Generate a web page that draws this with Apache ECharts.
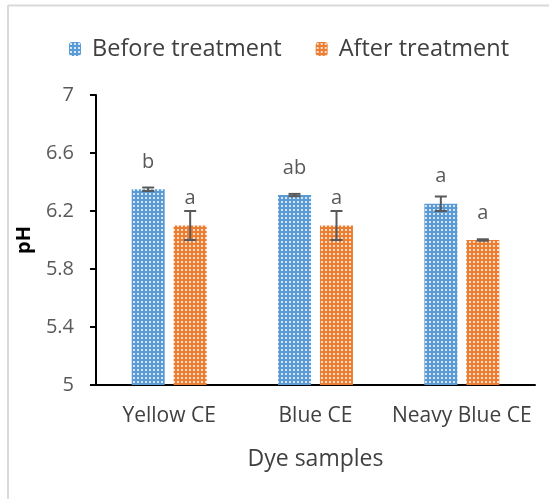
<!DOCTYPE html>
<html><head><meta charset="utf-8">
<script src="https://cdn.jsdelivr.net/npm/echarts@6/dist/echarts.min.js"></script>
<style>html,body{margin:0;padding:0;background:#fff}#c{width:549px;height:499px}</style>
</head><body><div id="c"></div>
<script>
const categories = ['Yellow CE', 'Blue CE', 'Neavy Blue CE'];
const seriesNames = ['Before treatment', 'After treatment'];
const beforeValues = [6.35, 6.31, 6.25];
const beforeErrors = [0.012, 0.008, 0.05];
const afterValues = [6.1, 6.1, 6.0];
const afterErrors = [0.1, 0.1, 0.005];
const beforeLetters = ['b', 'ab', 'a'];
const afterLetters = ['a', 'a', 'a'];
const yTicks = [5, 5.4, 5.8, 6.2, 6.6, 7];

function pattern(color) {
  const c = document.createElement('canvas');
  c.width = 4; c.height = 4;
  const g = c.getContext('2d');
  g.fillStyle = color; g.fillRect(0, 0, 4, 4);
  g.fillStyle = 'rgba(255,255,255,0.75)'; g.fillRect(1, 1, 2, 2);
  return { image: c, repeat: 'repeat' };
}
const blue = '#5B9BD5', orange = '#ED7D31';
const FONT = 'Open Sans';

function errSeries(vals, errs, offset) {
  return {
    type: 'custom',
    silent: true,
    z: 10,
    data: vals.map((v, i) => [i, v, errs[i]]),
    renderItem: function (params, api) {
      const i = api.value(0), v = api.value(1), e = api.value(2);
      const top = api.coord([i, v + e]);
      const bot = api.coord([i, v - e]);
      const x = top[0] + offset;
      const hw = 6;
      const st = { stroke: '#595959', lineWidth: 2 };
      return { type: 'group', children: [
        { type: 'line', shape: { x1: x, y1: top[1], x2: x, y2: bot[1] }, style: st },
        { type: 'line', shape: { x1: x - hw, y1: top[1], x2: x + hw, y2: top[1] }, style: st },
        { type: 'line', shape: { x1: x - hw, y1: bot[1], x2: x + hw, y2: bot[1] }, style: st }
      ]};
    }
  };
}

const chart = echarts.init(document.getElementById('c'), null, { renderer: 'canvas' });
const labelStyle = (letters) => ({
  show: true, position: 'top', distance: 17,
  formatter: p => letters[p.dataIndex],
  color: '#595959', fontSize: 20, fontFamily: FONT
});
chart.setOption({
  animation: false,
  textStyle: { fontFamily: FONT },
  graphic: [
    { type: 'line', shape: { x1: 8, y1: 5.5, x2: 549, y2: 5.5 }, style: { stroke: '#d9d9d9', lineWidth: 2 } },
    { type: 'line', shape: { x1: 8, y1: 5, x2: 8, y2: 499 }, style: { stroke: '#d9d9d9', lineWidth: 2 } }
  ],
  legend: {
    top: 32, left: 64,
    itemWidth: 12, itemHeight: 14, itemGap: 34,
    textStyle: { fontSize: 23.5, color: '#404040', fontFamily: FONT, padding: [0, 0, 0, 6] },
    data: seriesNames
  },
  grid: { left: 96, right: 14, top: 95, bottom: 114 },
  xAxis: {
    type: 'category', data: categories,
    name: 'Dye samples', nameLocation: 'middle', nameGap: 63,
    nameTextStyle: { fontSize: 23, color: '#404040', fontFamily: FONT },
    axisLine: { lineStyle: { color: '#000', width: 2 } },
    axisTick: { show: false },
    axisLabel: { fontSize: 21, color: '#404040', margin: 21, fontFamily: FONT, interval: 0, hideOverlap: false }
  },
  yAxis: {
    type: 'value', min: 5, max: 7, interval: 0.4,
    name: 'pH', nameLocation: 'middle', nameGap: 62,
    nameTextStyle: { fontSize: 20, color: '#000', fontWeight: 'bold', fontFamily: FONT },
    axisLine: { show: true, lineStyle: { color: '#000', width: 2 } },
    axisTick: { show: true, length: 6, lineStyle: { color: '#000', width: 2 } },
    splitLine: { show: false },
    axisLabel: { fontSize: 20, color: '#595959', margin: 22, fontFamily: FONT,
      formatter: v => { const t = yTicks.find(x => Math.abs(x - v) < 1e-6); return t === undefined ? '' : String(t); } }
  },
  series: [
    { name: seriesNames[0], type: 'bar', data: beforeValues, barWidth: 33, barGap: '27%',
      itemStyle: { color: pattern(blue) }, label: labelStyle(beforeLetters) },
    { name: seriesNames[1], type: 'bar', data: afterValues, barWidth: 33, barGap: '27%',
      itemStyle: { color: pattern(orange) }, label: labelStyle(afterLetters) },
    errSeries(beforeValues, beforeErrors, -21),
    errSeries(afterValues, afterErrors, 21)
  ]
});
</script></body></html>
